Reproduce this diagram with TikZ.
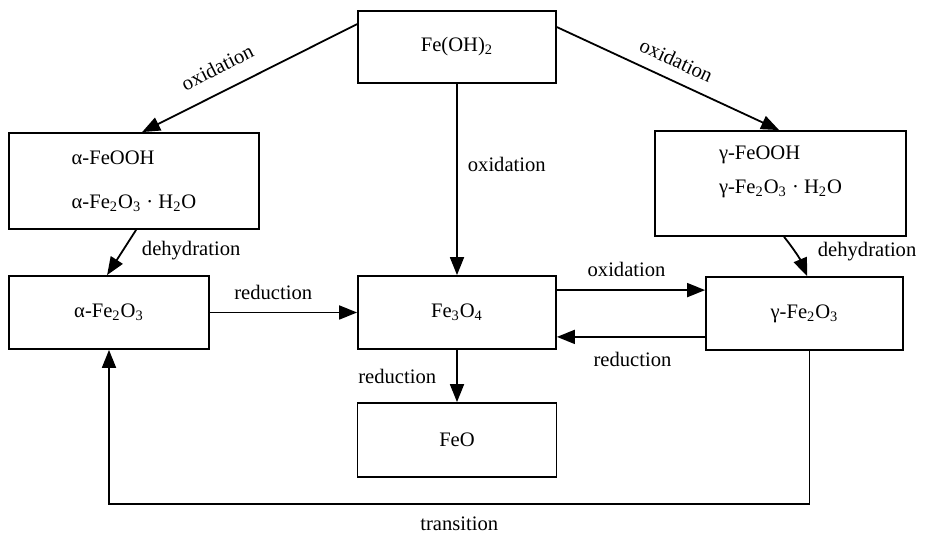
\documentclass[tikz,border=0pt]{standalone}
\usepackage{fontspec}
\setmainfont{Liberation Serif}
\usetikzlibrary{arrows.meta}
\tikzset{
  phase/.style={draw, line width=0.9pt, align=left, inner sep=2pt},
  conv/.style={-{Triangle[length=9pt,width=7pt]}, line width=0.9pt},
  clab/.style={inner sep=1pt},
}

\begin{document}
\begin{tikzpicture}[x=0.5pt, y=-0.5pt, font=\fontsize{10.3}{12.4}\selectfont]
\useasboundingbox (0,0) rectangle (925,533);

% phases
\node[phase, minimum width=99pt, minimum height=36pt] (feoh) at (457,47)
  {Fe(OH)\textsubscript{2}};
\node[phase, minimum width=125pt, minimum height=48pt] (afeooh) at (134,181)
  {α-FeOOH\\[9.5pt]α-Fe\textsubscript{2}O\textsubscript{3} · H\textsubscript{2}O};
\node[phase, minimum width=125.5pt, minimum height=52.5pt, text depth=14pt] (gfeooh) at (780.5,183.5)
  {γ-FeOOH\\[4.5pt]γ-Fe\textsubscript{2}O\textsubscript{3} · H\textsubscript{2}O};
\node[phase, minimum width=100pt, minimum height=36.5pt] (afe) at (109,312.5)
  {α-Fe\textsubscript{2}O\textsubscript{3}};
\node[phase, minimum width=99pt, minimum height=36.5pt] (fe3o4) at (457,312.5)
  {Fe\textsubscript{3}O\textsubscript{4}};
\node[phase, minimum width=99.5pt, minimum height=37pt] (feo) at (457,440)
  {FeO};
\node[phase, minimum width=98.5pt, minimum height=36.5pt] (gfe) at (804.5,313.5)
  {γ-Fe\textsubscript{2}O\textsubscript{3}};

\coordinate (ox) at ([yshift=-7.5pt]fe3o4.north east);
\coordinate (rd) at ([yshift=7pt]gfe.south west);

% conversions
\draw[conv] ([yshift=-7pt]feoh.north west) --
  node[clab, sloped, above=7pt, pos=0.6] {oxidation} ([xshift=67pt]afeooh.north west);
\draw[conv] ([yshift=-8.5pt]feoh.north east) --
  node[clab, sloped, above=5pt] {oxidation} ([xshift=62.5pt]gfeooh.north west);
\draw[conv] (feoh) -- node[clab, right=4pt, pos=0.42] {oxidation} (fe3o4);
\draw[conv] ([xshift=64pt]afeooh.south west) --
  node[clab, right=8pt, pos=0.45] {dehydration} ([xshift=49.5pt]afe.north west);
\draw[conv] ([xshift=65pt]gfeooh.south west) to[bend left=8]
  node[clab, right=10pt, pos=0.4] {dehydration} ([xshift=51pt]gfe.north west);
\draw[conv] (afe) -- node[clab, above=5pt, pos=0.43] {reduction} (fe3o4);
\draw[conv] (ox) -- node[clab, above=5pt, pos=0.47] {oxidation} (ox -| gfe.west);
\draw[conv] (rd) -- node[clab, below=6pt, pos=0.49] {reduction} (rd -| fe3o4.east);
\draw[conv] (fe3o4) -- node[clab, left=9pt] {reduction} (feo);
\draw[conv] ([xshift=2.5pt]gfe.south) -- ++(0,153) -|
  node[clab, below=5pt, pos=0.25] {transition} (afe.south);

\end{tikzpicture}
\end{document}
